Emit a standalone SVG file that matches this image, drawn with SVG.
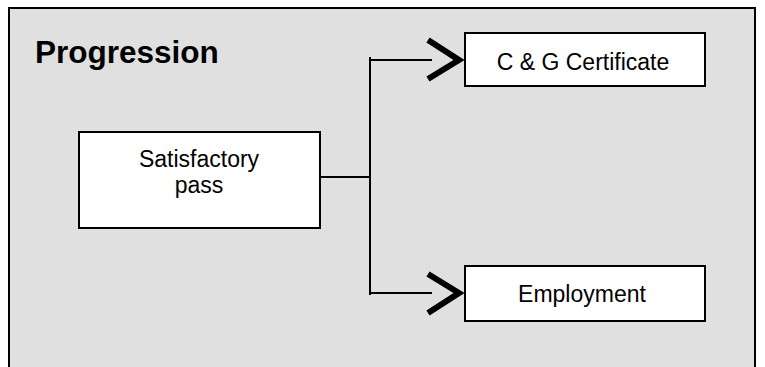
<svg xmlns="http://www.w3.org/2000/svg" width="765" height="367" viewBox="0 0 765 367">
<style>
.box{fill:#fff;stroke:#000;stroke-width:2}
.lbl{font-family:"Liberation Sans",Arial,sans-serif;font-size:23px;fill:#000;text-anchor:middle}
.ln{fill:none;stroke:#000;stroke-width:2}
.ah{fill:none;stroke:#000;stroke-width:6;stroke-linejoin:miter}
</style>
<rect x="9" y="8" width="746" height="372" fill="#e0e0e0" stroke="#000" stroke-width="2"/>
<text x="35" y="63" font-family="Liberation Sans,Arial,sans-serif" font-size="31.5" font-weight="bold">Progression</text>
<g id="connectors">
<path class="ln" d="M320 177 H370"/>
<path class="ln" d="M370 57 V295" stroke-width="3"/>
<path class="ln" d="M370 60 H432"/>
<path class="ln" d="M370 293 H432"/>
<path class="ah" d="M428 40 L459 60 L428 79"/>
<path class="ah" d="M428 274 L459 293 L428 313"/>
</g>
<g id="satisfactory">
<rect class="box" x="79" y="132" width="241" height="96"/>
<text class="lbl" x="199" y="167">Satisfactory</text>
<text class="lbl" x="199" y="193">pass</text>
</g>
<g id="certificate">
<rect class="box" x="465" y="33" width="240" height="53"/>
<text class="lbl" x="583" y="70">C &amp; G Certificate</text>
</g>
<g id="employment">
<rect class="box" x="465" y="266" width="240" height="55"/>
<text class="lbl" x="582" y="302">Employment</text>
</g>
</svg>
